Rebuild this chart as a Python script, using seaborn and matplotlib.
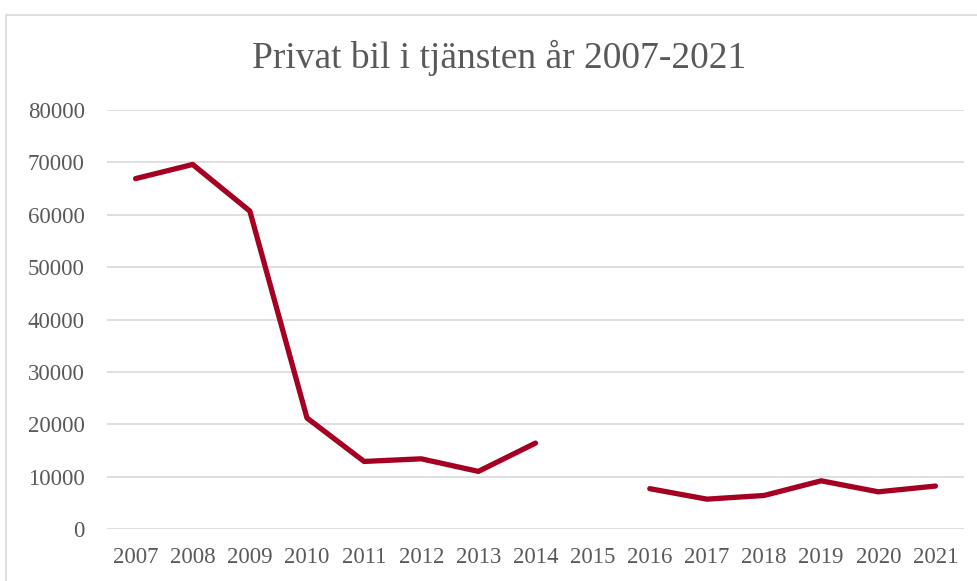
import matplotlib
matplotlib.use("Agg")
import matplotlib.pyplot as plt
import seaborn as sns
import numpy as np
import pandas as pd
from matplotlib.patches import Rectangle

years = ["2007", "2008", "2009", "2010", "2011", "2012", "2013", "2014",
         "2015", "2016", "2017", "2018", "2019", "2020", "2021"]
values = [66900, 69600, 60700, 21200, 12900, 13400, 11000, 16400,
          np.nan, 7700, 5700, 6400, 9200, 7100, 8200]
title = "Privat bil i tjänsten år 2007-2021"
yticks = [0, 10000, 20000, 30000, 40000, 50000, 60000, 70000, 80000]

df = pd.DataFrame({"year": years, "value": values})
df["pos"] = np.arange(len(years))
# split into segments at missing values so the line shows a gap
df["segment"] = df["value"].isna().cumsum()
df = df.dropna(subset=["value"])

sns.set_theme(style="white")
plt.rcParams["font.family"] = ["Liberation Serif", "DejaVu Serif"]

W, H = 977, 581
fig = plt.figure(figsize=(W / 100, H / 100), dpi=100)
ax = fig.add_axes([107 / W, 1 - 529 / H, (964 - 107) / W, (529 - 110) / H])

sns.lineplot(data=df, x="pos", y="value", units="segment", estimator=None,
             ax=ax, color="#A50021", linewidth=3.8,
             solid_capstyle="round", solid_joinstyle="round")

ax.set_xlim(-0.5, len(years) - 0.5)
ax.set_ylim(0, 80000)
ax.set_yticks(yticks)
ax.set_yticklabels([str(v) for v in yticks])
ax.set_xticks(np.arange(len(years)))
ax.set_xticklabels(years)
ax.set_xlabel("")
ax.set_ylabel("")
for s in ax.spines.values():
    s.set_visible(False)
ax.grid(axis="y", color="#D9D9D9", linewidth=1.2)
ax.grid(axis="x", visible=False)
ax.set_axisbelow(True)
ax.tick_params(axis="both", length=0, labelsize=16.5, labelcolor="#595959")
ax.tick_params(axis="y", pad=16)
ax.tick_params(axis="x", pad=13)

fig.text(0.5 * (255 + 743) / W, 1 - 58 / H, title, ha="center", va="center",
         fontsize=27, color="#595959")

fig.patches.append(Rectangle((5.5 / W, -0.1), 1.2, 1 - 14.5 / H + 0.1,
                             transform=fig.transFigure, fill=False,
                             edgecolor="#D9D9D9", linewidth=1.2))

fig.savefig("out.png", dpi=100, facecolor="white")
